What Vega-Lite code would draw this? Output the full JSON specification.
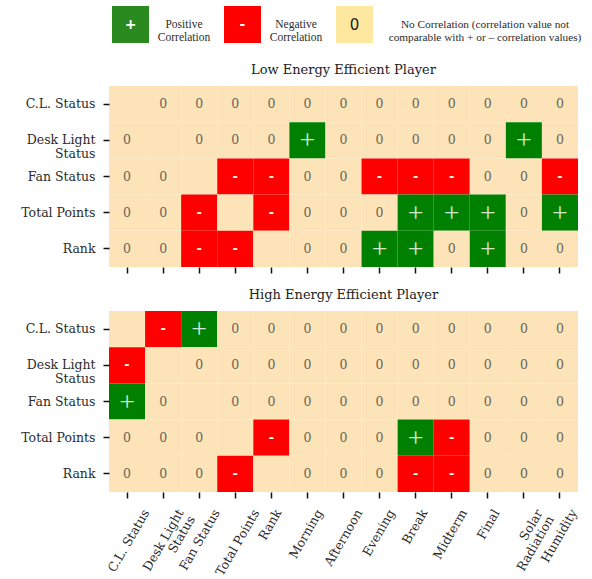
{
  "$schema": "https://vega.github.io/schema/vega-lite/v6.json",
  "padding": {"left": 20, "top": 0, "right": 0, "bottom": 5},
  "background": "white",
  "config": {
    "view": {"stroke": null},
    "font": "DejaVu Serif",
    "axis": {"labelFont": "DejaVu Serif", "labelColor": "#2b2b2b", "domain": false, "tickColor": "#111", "tickWidth": 1.5, "tickSize": 6, "grid": false, "title": null},
    "title": {"font": "DejaVu Serif", "fontWeight": "normal", "fontSize": 13, "color": "#222", "offset": 9}
  },
  "resolve": {"scale": {"color": "independent"}},
  "datasets": {
    "legend": [
      {"cat": "+", "sym": "+", "label": "Positive\nCorrelation"},
      {"cat": "-", "sym": "-", "label": "Negative\nCorrelation"},
      {"cat": "0", "sym": "0", "label": "No Correlation (correlation value not\ncomparable with + or – correlation values)"}
    ],
    "cells": [
      {"p":"L","r":"C.L. Status","c":"C.L. Status","v":"d"},
      {"p":"L","r":"C.L. Status","c":"Desk Light\nStatus","v":"0"},
      {"p":"L","r":"C.L. Status","c":"Fan Status","v":"0"},
      {"p":"L","r":"C.L. Status","c":"Total Points","v":"0"},
      {"p":"L","r":"C.L. Status","c":"Rank","v":"0"},
      {"p":"L","r":"C.L. Status","c":"Morning","v":"0"},
      {"p":"L","r":"C.L. Status","c":"Afternoon","v":"0"},
      {"p":"L","r":"C.L. Status","c":"Evening","v":"0"},
      {"p":"L","r":"C.L. Status","c":"Break","v":"0"},
      {"p":"L","r":"C.L. Status","c":"Midterm","v":"0"},
      {"p":"L","r":"C.L. Status","c":"Final","v":"0"},
      {"p":"L","r":"C.L. Status","c":"Solar\nRadiation","v":"0"},
      {"p":"L","r":"C.L. Status","c":"Humidity","v":"0"},
      {"p":"L","r":"Desk Light\nStatus","c":"C.L. Status","v":"0"},
      {"p":"L","r":"Desk Light\nStatus","c":"Desk Light\nStatus","v":"d"},
      {"p":"L","r":"Desk Light\nStatus","c":"Fan Status","v":"0"},
      {"p":"L","r":"Desk Light\nStatus","c":"Total Points","v":"0"},
      {"p":"L","r":"Desk Light\nStatus","c":"Rank","v":"0"},
      {"p":"L","r":"Desk Light\nStatus","c":"Morning","v":"+"},
      {"p":"L","r":"Desk Light\nStatus","c":"Afternoon","v":"0"},
      {"p":"L","r":"Desk Light\nStatus","c":"Evening","v":"0"},
      {"p":"L","r":"Desk Light\nStatus","c":"Break","v":"0"},
      {"p":"L","r":"Desk Light\nStatus","c":"Midterm","v":"0"},
      {"p":"L","r":"Desk Light\nStatus","c":"Final","v":"0"},
      {"p":"L","r":"Desk Light\nStatus","c":"Solar\nRadiation","v":"+"},
      {"p":"L","r":"Desk Light\nStatus","c":"Humidity","v":"0"},
      {"p":"L","r":"Fan Status","c":"C.L. Status","v":"0"},
      {"p":"L","r":"Fan Status","c":"Desk Light\nStatus","v":"0"},
      {"p":"L","r":"Fan Status","c":"Fan Status","v":"d"},
      {"p":"L","r":"Fan Status","c":"Total Points","v":"-"},
      {"p":"L","r":"Fan Status","c":"Rank","v":"-"},
      {"p":"L","r":"Fan Status","c":"Morning","v":"0"},
      {"p":"L","r":"Fan Status","c":"Afternoon","v":"0"},
      {"p":"L","r":"Fan Status","c":"Evening","v":"-"},
      {"p":"L","r":"Fan Status","c":"Break","v":"-"},
      {"p":"L","r":"Fan Status","c":"Midterm","v":"-"},
      {"p":"L","r":"Fan Status","c":"Final","v":"0"},
      {"p":"L","r":"Fan Status","c":"Solar\nRadiation","v":"0"},
      {"p":"L","r":"Fan Status","c":"Humidity","v":"-"},
      {"p":"L","r":"Total Points","c":"C.L. Status","v":"0"},
      {"p":"L","r":"Total Points","c":"Desk Light\nStatus","v":"0"},
      {"p":"L","r":"Total Points","c":"Fan Status","v":"-"},
      {"p":"L","r":"Total Points","c":"Total Points","v":"d"},
      {"p":"L","r":"Total Points","c":"Rank","v":"-"},
      {"p":"L","r":"Total Points","c":"Morning","v":"0"},
      {"p":"L","r":"Total Points","c":"Afternoon","v":"0"},
      {"p":"L","r":"Total Points","c":"Evening","v":"0"},
      {"p":"L","r":"Total Points","c":"Break","v":"+"},
      {"p":"L","r":"Total Points","c":"Midterm","v":"+"},
      {"p":"L","r":"Total Points","c":"Final","v":"+"},
      {"p":"L","r":"Total Points","c":"Solar\nRadiation","v":"0"},
      {"p":"L","r":"Total Points","c":"Humidity","v":"+"},
      {"p":"L","r":"Rank","c":"C.L. Status","v":"0"},
      {"p":"L","r":"Rank","c":"Desk Light\nStatus","v":"0"},
      {"p":"L","r":"Rank","c":"Fan Status","v":"-"},
      {"p":"L","r":"Rank","c":"Total Points","v":"-"},
      {"p":"L","r":"Rank","c":"Rank","v":"d"},
      {"p":"L","r":"Rank","c":"Morning","v":"0"},
      {"p":"L","r":"Rank","c":"Afternoon","v":"0"},
      {"p":"L","r":"Rank","c":"Evening","v":"+"},
      {"p":"L","r":"Rank","c":"Break","v":"+"},
      {"p":"L","r":"Rank","c":"Midterm","v":"0"},
      {"p":"L","r":"Rank","c":"Final","v":"+"},
      {"p":"L","r":"Rank","c":"Solar\nRadiation","v":"0"},
      {"p":"L","r":"Rank","c":"Humidity","v":"0"},
      {"p":"H","r":"C.L. Status","c":"C.L. Status","v":"d"},
      {"p":"H","r":"C.L. Status","c":"Desk Light\nStatus","v":"-"},
      {"p":"H","r":"C.L. Status","c":"Fan Status","v":"+"},
      {"p":"H","r":"C.L. Status","c":"Total Points","v":"0"},
      {"p":"H","r":"C.L. Status","c":"Rank","v":"0"},
      {"p":"H","r":"C.L. Status","c":"Morning","v":"0"},
      {"p":"H","r":"C.L. Status","c":"Afternoon","v":"0"},
      {"p":"H","r":"C.L. Status","c":"Evening","v":"0"},
      {"p":"H","r":"C.L. Status","c":"Break","v":"0"},
      {"p":"H","r":"C.L. Status","c":"Midterm","v":"0"},
      {"p":"H","r":"C.L. Status","c":"Final","v":"0"},
      {"p":"H","r":"C.L. Status","c":"Solar\nRadiation","v":"0"},
      {"p":"H","r":"C.L. Status","c":"Humidity","v":"0"},
      {"p":"H","r":"Desk Light\nStatus","c":"C.L. Status","v":"-"},
      {"p":"H","r":"Desk Light\nStatus","c":"Desk Light\nStatus","v":"d"},
      {"p":"H","r":"Desk Light\nStatus","c":"Fan Status","v":"0"},
      {"p":"H","r":"Desk Light\nStatus","c":"Total Points","v":"0"},
      {"p":"H","r":"Desk Light\nStatus","c":"Rank","v":"0"},
      {"p":"H","r":"Desk Light\nStatus","c":"Morning","v":"0"},
      {"p":"H","r":"Desk Light\nStatus","c":"Afternoon","v":"0"},
      {"p":"H","r":"Desk Light\nStatus","c":"Evening","v":"0"},
      {"p":"H","r":"Desk Light\nStatus","c":"Break","v":"0"},
      {"p":"H","r":"Desk Light\nStatus","c":"Midterm","v":"0"},
      {"p":"H","r":"Desk Light\nStatus","c":"Final","v":"0"},
      {"p":"H","r":"Desk Light\nStatus","c":"Solar\nRadiation","v":"0"},
      {"p":"H","r":"Desk Light\nStatus","c":"Humidity","v":"0"},
      {"p":"H","r":"Fan Status","c":"C.L. Status","v":"+"},
      {"p":"H","r":"Fan Status","c":"Desk Light\nStatus","v":"0"},
      {"p":"H","r":"Fan Status","c":"Fan Status","v":"d"},
      {"p":"H","r":"Fan Status","c":"Total Points","v":"0"},
      {"p":"H","r":"Fan Status","c":"Rank","v":"0"},
      {"p":"H","r":"Fan Status","c":"Morning","v":"0"},
      {"p":"H","r":"Fan Status","c":"Afternoon","v":"0"},
      {"p":"H","r":"Fan Status","c":"Evening","v":"0"},
      {"p":"H","r":"Fan Status","c":"Break","v":"0"},
      {"p":"H","r":"Fan Status","c":"Midterm","v":"0"},
      {"p":"H","r":"Fan Status","c":"Final","v":"0"},
      {"p":"H","r":"Fan Status","c":"Solar\nRadiation","v":"0"},
      {"p":"H","r":"Fan Status","c":"Humidity","v":"0"},
      {"p":"H","r":"Total Points","c":"C.L. Status","v":"0"},
      {"p":"H","r":"Total Points","c":"Desk Light\nStatus","v":"0"},
      {"p":"H","r":"Total Points","c":"Fan Status","v":"0"},
      {"p":"H","r":"Total Points","c":"Total Points","v":"d"},
      {"p":"H","r":"Total Points","c":"Rank","v":"-"},
      {"p":"H","r":"Total Points","c":"Morning","v":"0"},
      {"p":"H","r":"Total Points","c":"Afternoon","v":"0"},
      {"p":"H","r":"Total Points","c":"Evening","v":"0"},
      {"p":"H","r":"Total Points","c":"Break","v":"+"},
      {"p":"H","r":"Total Points","c":"Midterm","v":"-"},
      {"p":"H","r":"Total Points","c":"Final","v":"0"},
      {"p":"H","r":"Total Points","c":"Solar\nRadiation","v":"0"},
      {"p":"H","r":"Total Points","c":"Humidity","v":"0"},
      {"p":"H","r":"Rank","c":"C.L. Status","v":"0"},
      {"p":"H","r":"Rank","c":"Desk Light\nStatus","v":"0"},
      {"p":"H","r":"Rank","c":"Fan Status","v":"0"},
      {"p":"H","r":"Rank","c":"Total Points","v":"-"},
      {"p":"H","r":"Rank","c":"Rank","v":"d"},
      {"p":"H","r":"Rank","c":"Morning","v":"0"},
      {"p":"H","r":"Rank","c":"Afternoon","v":"0"},
      {"p":"H","r":"Rank","c":"Evening","v":"0"},
      {"p":"H","r":"Rank","c":"Break","v":"-"},
      {"p":"H","r":"Rank","c":"Midterm","v":"-"},
      {"p":"H","r":"Rank","c":"Final","v":"0"},
      {"p":"H","r":"Rank","c":"Solar\nRadiation","v":"0"},
      {"p":"H","r":"Rank","c":"Humidity","v":"0"}
    ]
  },
  "spacing": 15,
  "vconcat": [
    {
      "width": 336,
      "height": 49,
      "data": {"name": "legend"},
      "encoding": {
        "x": {"field": "cat", "type": "nominal", "sort": ["+", "-", "0"], "scale": {"paddingInner": 0, "paddingOuter": 0}, "axis": null}
      },
      "layer": [
        {
          "mark": {"type": "square", "size": 1369, "opacity": 1, "filled": true, "xOffset": -34.5},
          "encoding": {
            "color": {"field": "cat", "type": "nominal", "scale": {"domain": ["+", "-", "0"], "range": ["#2b8a1f", "#ff0000", "#fee79e"]}, "legend": null}
          }
        },
        {
          "transform": [{"filter": "datum.cat != '0'"}],
          "mark": {"type": "text", "xOffset": -34.5, "font": "DejaVu Sans", "fontWeight": "bold", "fontSize": 14, "color": "white"},
          "encoding": {"text": {"field": "sym"}}
        },
        {
          "transform": [{"filter": "datum.cat == '0'"}],
          "mark": {"type": "text", "xOffset": -34.5, "font": "DejaVu Sans", "fontSize": 15, "color": "#222"},
          "encoding": {"text": {"field": "sym"}}
        },
        {
          "transform": [{"filter": "datum.cat != '0'"}],
          "mark": {"type": "text", "xOffset": 19, "align": "center", "font": "Liberation Serif", "fontSize": 11.5, "lineHeight": 13.5, "lineBreak": "\n", "color": "#2b2b2b"},
          "encoding": {"text": {"field": "label"}}
        },
        {
          "transform": [{"filter": "datum.cat == '0'"}],
          "mark": {"type": "text", "xOffset": 96, "align": "center", "font": "Liberation Serif", "fontSize": 11.3, "lineHeight": 13.5, "lineBreak": "\n", "color": "#2b2b2b"},
          "encoding": {"text": {"field": "label"}}
        }
      ]
    },
    {
      "width": 469,
      "height": 181,
      "title": "Low Energy Efficient Player",
      "data": {"name": "cells"},
      "transform": [{"filter": "datum.p == 'L'"}],
      "encoding": {
        "x": {"field": "c", "type": "nominal", "sort": ["C.L. Status", "Desk Light\nStatus", "Fan Status", "Total Points", "Rank", "Morning", "Afternoon", "Evening", "Break", "Midterm", "Final", "Solar\nRadiation", "Humidity"], "scale": {"paddingInner": 0, "paddingOuter": 0}, "axis": {"labels": false, "orient": "bottom"}},
        "y": {"field": "r", "type": "nominal", "sort": ["C.L. Status", "Desk Light\nStatus", "Fan Status", "Total Points", "Rank"], "scale": {"paddingInner": 0, "paddingOuter": 0}, "axis": {"labelExpr": "split(datum.label, '\\n')", "labelFontSize": 12.5, "labelLineHeight": 14, "labelPadding": 8, "labelLimit": 200}}
      },
      "layer": [
        {
          "mark": {"type": "rect"},
          "encoding": {"color": {"field": "v", "type": "nominal", "scale": {"domain": ["+", "-", "0", "d"], "range": ["#008000", "#ff0000", "#fce3b8", "#fce3b8"]}, "legend": null}}
        },
        {
          "transform": [{"filter": "datum.v == '0'"}],
          "mark": {"type": "text", "font": "DejaVu Serif", "fontSize": 12.5, "color": "#6b6558"},
          "encoding": {"text": {"field": "v"}}
        },
        {
          "transform": [{"filter": "datum.v == '+'"}],
          "mark": {"type": "text", "font": "Liberation Serif", "fontSize": 28, "color": "#cfe8cf", "dy": 1},
          "encoding": {"text": {"field": "v"}}
        },
        {
          "transform": [{"filter": "datum.v == '-'"}],
          "mark": {"type": "text", "font": "DejaVu Sans", "fontWeight": "bold", "fontSize": 13, "color": "white"},
          "encoding": {"text": {"field": "v"}}
        }
      ]
    },
    {
      "width": 469,
      "height": 181,
      "title": "High Energy Efficient Player",
      "data": {"name": "cells"},
      "transform": [{"filter": "datum.p == 'H'"}],
      "encoding": {
        "x": {"field": "c", "type": "nominal", "sort": ["C.L. Status", "Desk Light\nStatus", "Fan Status", "Total Points", "Rank", "Morning", "Afternoon", "Evening", "Break", "Midterm", "Final", "Solar\nRadiation", "Humidity"], "scale": {"paddingInner": 0, "paddingOuter": 0}, "axis": {"labelExpr": "split(datum.label, '\\n')", "labelAngle": -60, "labelAlign": "right", "labelBaseline": "middle", "labelFontSize": 12.5, "labelLineHeight": 13, "labelPadding": 12, "labelLimit": 200, "labelOffset": {"expr": "1.75 * (indexof(datum.value, '\\n') < 0 ? length(datum.value) : max(indexof(datum.value, '\\n'), length(datum.value) - indexof(datum.value, '\\n') - 1))"}}},
        "y": {"field": "r", "type": "nominal", "sort": ["C.L. Status", "Desk Light\nStatus", "Fan Status", "Total Points", "Rank"], "scale": {"paddingInner": 0, "paddingOuter": 0}, "axis": {"labelExpr": "split(datum.label, '\\n')", "labelFontSize": 12.5, "labelLineHeight": 14, "labelPadding": 8, "labelLimit": 200}}
      },
      "layer": [
        {
          "mark": {"type": "rect"},
          "encoding": {"color": {"field": "v", "type": "nominal", "scale": {"domain": ["+", "-", "0", "d"], "range": ["#008000", "#ff0000", "#fce3b8", "#fce3b8"]}, "legend": null}}
        },
        {
          "transform": [{"filter": "datum.v == '0'"}],
          "mark": {"type": "text", "font": "DejaVu Serif", "fontSize": 12.5, "color": "#6b6558"},
          "encoding": {"text": {"field": "v"}}
        },
        {
          "transform": [{"filter": "datum.v == '+'"}],
          "mark": {"type": "text", "font": "Liberation Serif", "fontSize": 28, "color": "#cfe8cf", "dy": 1},
          "encoding": {"text": {"field": "v"}}
        },
        {
          "transform": [{"filter": "datum.v == '-'"}],
          "mark": {"type": "text", "font": "DejaVu Sans", "fontWeight": "bold", "fontSize": 13, "color": "white"},
          "encoding": {"text": {"field": "v"}}
        }
      ]
    }
  ]
}
